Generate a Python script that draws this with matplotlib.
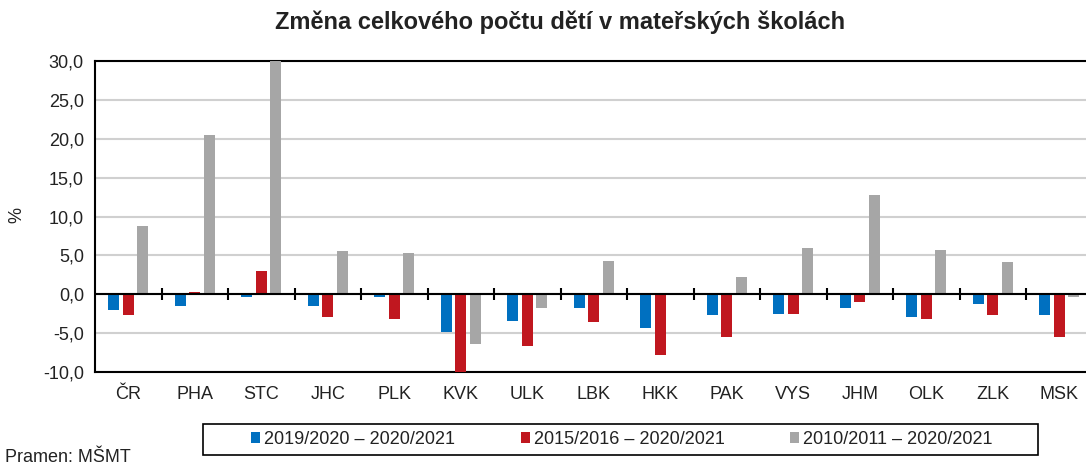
import matplotlib
matplotlib.use("Agg")
import matplotlib.pyplot as plt
from matplotlib.patches import Rectangle
import numpy as np

plt.rcParams['font.family'] = ['Liberation Sans', 'DejaVu Sans']

categories = ["ČR", "PHA", "STC", "JHC", "PLK", "KVK", "ULK", "LBK", "HKK", "PAK", "VYS", "JHM", "OLK", "ZLK", "MSK"]
series_names = ["2019/2020 – 2020/2021", "2015/2016 – 2020/2021", "2010/2011 – 2020/2021"]
s2019 = [-2.0, -1.5, -0.3, -1.5, -0.3, -4.9, -3.4, -1.75, -4.3, -2.7, -2.5, -1.75, -2.95, -1.3, -2.7]
s2015 = [-2.7, 0.35, 2.95, -2.95, -3.2, -10.3, -6.7, -3.6, -7.8, -5.5, -2.5, -1.0, -3.2, -2.7, -5.5]
s2010 = [8.8, 20.5, 30.5, 5.5, 5.3, -6.45, -1.75, 4.3, 0.0, 2.2, 6.0, 12.8, 5.7, 4.1, -0.3]
yticks = [-10, -5, 0, 5, 10, 15, 20, 25, 30]
colors = ["#0070C0", "#C0171F", "#A6A6A6"]

W, H = 1086, 466
fig = plt.figure(figsize=(W / 100, H / 100), dpi=100)
left, right, top, bottom = 95, 1086, 61, 372
ax = fig.add_axes([left / W, 1 - bottom / H, (right - left) / W, (bottom - top) / H])

x = np.arange(len(categories))
bw = 0.165
step = 0.22
for i, (vals, c, name) in enumerate(zip([s2019, s2015, s2010], colors, series_names)):
    ax.bar(x + (i - 1) * step, vals, width=bw, color=c, label=name, zorder=3)

ax.set_ylim(-10, 30)
cat_w = 66.5
ax.set_xlim(-0.5, -0.5 + (right - left) / cat_w)
ax.set_yticks(yticks)
ax.set_yticklabels([f"{v:.1f}".replace(".", ",") for v in yticks], fontsize=13, color="#222222")
ax.yaxis.grid(True, color="#D0D0D0", linewidth=1.5, zorder=0)
ax.tick_params(axis="y", length=0, pad=8)
ax.set_xticks(x)
ax.set_xticklabels(categories, fontsize=13, color="#222222")
ax.tick_params(axis="x", length=0, pad=10)
for s in ["left", "top", "bottom"]:
    ax.spines[s].set_linewidth(1.5)
    ax.spines[s].set_color("black")
ax.spines["right"].set_visible(False)

ax.axhline(0, color="black", linewidth=1.5, zorder=4)
sec = ax.secondary_xaxis(0.25)
sec.set_xticks(x[:-1] + 0.5)
sec.set_xticklabels([])
sec.tick_params(direction="inout", length=8, width=1.5, color="black")
sec.spines["bottom"].set_visible(False)

fig.text(560 / W, 1 - 22 / H, "Změna celkového počtu dětí v mateřských školách",
         ha="center", va="center", fontsize=17, fontweight="bold", color="#222222")
fig.text(17 / W, 1 - 215 / H, "%", rotation=90, ha="center", va="center", fontsize=13, color="#222222")
fig.text(5 / W, 1 - 458 / H, "Pramen: MŠMT", ha="left", va="center", fontsize=13, color="#222222")

box = Rectangle((203 / W, 1 - 455 / H), (1038 - 203) / W, 31 / H, transform=fig.transFigure,
                facecolor="white", edgecolor="black", linewidth=1.2)
fig.add_artist(box)
leg = fig.legend(loc="center", bbox_to_anchor=(622 / W, 1 - 439.5 / H), ncol=3, frameon=False,
                 fontsize=13, handlelength=0.5, handleheight=0.5, handletextpad=0.2,
                 columnspacing=3.65, borderpad=0.2, borderaxespad=0)
for t in leg.get_texts():
    t.set_color("#222222")

fig.savefig("out.png", dpi=100)
